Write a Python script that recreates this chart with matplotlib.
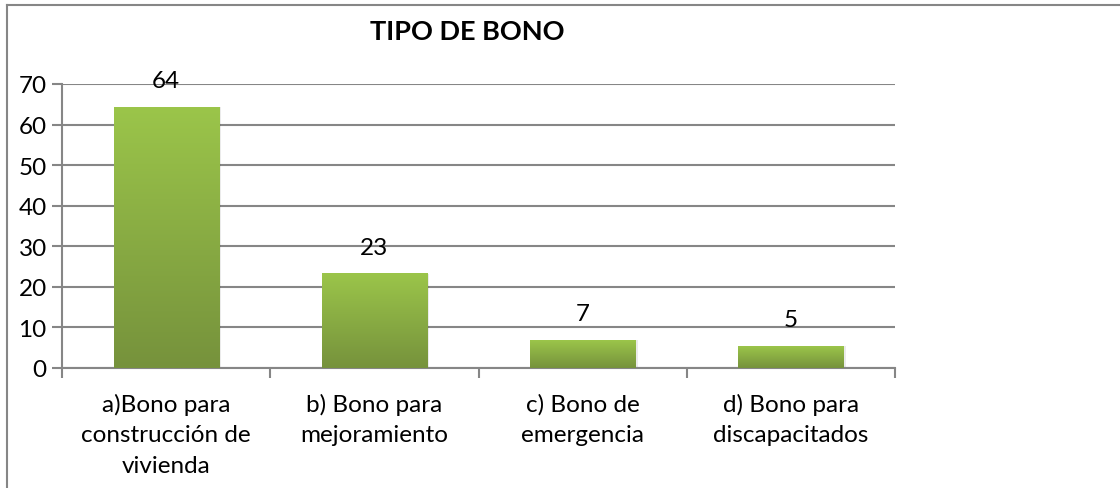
import numpy as np
import matplotlib.pyplot as plt
from matplotlib.patches import Rectangle
from matplotlib.lines import Line2D
from matplotlib.colors import LinearSegmentedColormap

categories = ["a)Bono para\nconstrucción de\nvivienda", "b) Bono para\nmejoramiento",
              "c) Bono de\nemergencia", "d) Bono para\ndiscapacitados"]
values = [64.3, 23.2, 6.9, 5.4]
labels = ["64", "23", "7", "5"]
yticks = [0, 10, 20, 30, 40, 50, 60, 70]

GRID = '#868686'
FS = 17.5
plt.rcParams['font.family'] = ['Lato', 'DejaVu Sans']

fig = plt.figure(figsize=(11.2, 4.89), dpi=100)
ax = fig.add_axes([0.0554, 0.2454, 0.7437, 0.5808])

# outer chart border (left and top edges only are visible)
top = 1 - 6/489
left = 7/1120
fig.lines.append(Line2D([left, left], [0, top], transform=fig.transFigure, color=GRID, lw=1.5))
fig.lines.append(Line2D([left, 1], [top, top], transform=fig.transFigure, color=GRID, lw=1.5))

cmap = LinearSegmentedColormap.from_list('g', ['#76923c', '#9bc54a'])
grad = np.linspace(0, 1, 256).reshape(-1, 1)
x = np.arange(len(values))
bars = ax.bar(x, values, width=0.505, color='none', zorder=3)
for b, lab in zip(bars, labels):
    x0, w, h = b.get_x(), b.get_width(), b.get_height()
    # soft shadow
    ax.add_patch(Rectangle((x0 + 0.012, 0), w, h, color='#000000', alpha=0.08, lw=0, zorder=2))
    ax.imshow(grad, cmap=cmap, origin='lower', aspect='auto',
              extent=(x0, x0 + w, 0, h), zorder=3)
    ax.annotate(lab, (x0 + w / 2, h), xytext=(0, 19), textcoords='offset points',
                ha='center', va='center', fontsize=FS)

ax.set_xlim(-0.5, len(values) - 0.5)
ax.set_ylim(0, 70)
ax.set_yticks(yticks)
ax.set_xticks(np.arange(-0.5, len(values)), minor=False)
ax.set_xticklabels([])
ax.set_xticks(x, minor=True)
ax.set_xticklabels(categories, minor=True, fontsize=FS, linespacing=1.55)
ax.tick_params(axis='x', which='minor', length=0, pad=18)
ax.tick_params(axis='x', which='major', length=7, width=1.5, color=GRID)
ax.tick_params(axis='y', length=7, width=1.5, color=GRID, labelsize=FS, pad=4)
ax.grid(axis='y', color=GRID, lw=1.5, zorder=1)
ax.set_axisbelow(True)
for s in ['top', 'right']:
    ax.spines[s].set_visible(False)
for s in ['left', 'bottom']:
    ax.spines[s].set_color(GRID)
    ax.spines[s].set_linewidth(1.5)

fig.text(467/1120, 1 - 32/489, 'TIPO DE BONO', ha='center', va='center',
         fontsize=19.5, fontweight='bold')

fig.savefig('out.png', dpi=100, facecolor='white')
